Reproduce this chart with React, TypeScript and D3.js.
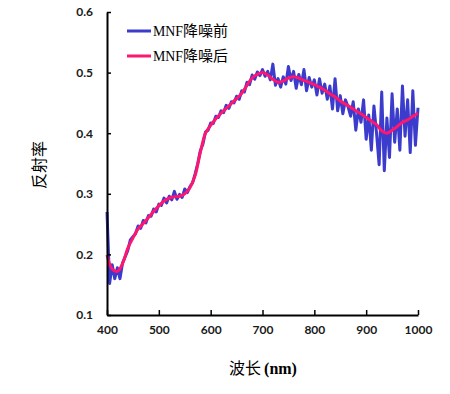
import { useEffect, useRef } from 'react';
import * as d3 from 'd3';

// wavelength (nm) of each sample, blue line sampled every 5 nm, red every 10 nm
const rawWavelengths = d3.range(400, 1001, 5);
const rawReflectance = [
  0.270, 0.152, 0.183, 0.160, 0.178, 0.160, 0.186, 0.196, 0.206, 0.224,
  0.229, 0.234, 0.247, 0.243, 0.256, 0.252, 0.264, 0.263, 0.275, 0.270,
  0.283, 0.281, 0.293, 0.285, 0.296, 0.290, 0.304, 0.291, 0.299, 0.294,
  0.308, 0.302, 0.312, 0.318, 0.333, 0.350, 0.371, 0.382, 0.402, 0.405,
  0.417, 0.416, 0.428, 0.426, 0.437, 0.434, 0.446, 0.441, 0.452, 0.450,
  0.461, 0.456, 0.470, 0.468, 0.484, 0.480, 0.496, 0.489, 0.501, 0.495,
  0.505, 0.494, 0.502, 0.488, 0.514, 0.479, 0.490, 0.476, 0.493, 0.481,
  0.510, 0.487, 0.502, 0.474, 0.497, 0.480, 0.505, 0.470, 0.492, 0.476,
  0.488, 0.463, 0.490, 0.466, 0.481, 0.456, 0.478, 0.440, 0.490, 0.437,
  0.462, 0.432, 0.455, 0.444, 0.428, 0.452, 0.405, 0.440, 0.418, 0.455,
  0.390, 0.430, 0.372, 0.445, 0.400, 0.348, 0.468, 0.338, 0.425, 0.360,
  0.465, 0.385, 0.440, 0.372, 0.478, 0.395, 0.455, 0.368, 0.470, 0.380,
  0.442,
];

const mnfWavelengths = d3.range(400, 1001, 10);
const mnfReflectance = [
  0.199, 0.176, 0.172, 0.185, 0.210, 0.227, 0.242, 0.251, 0.261, 0.271,
  0.280, 0.288, 0.293, 0.295, 0.296, 0.300, 0.310, 0.330, 0.368, 0.400,
  0.413, 0.424, 0.433, 0.441, 0.449, 0.457, 0.466, 0.479, 0.491, 0.497,
  0.500, 0.496, 0.489, 0.484, 0.486, 0.491, 0.493, 0.491, 0.487, 0.484,
  0.480, 0.476, 0.471, 0.465, 0.460, 0.453, 0.448, 0.443, 0.437, 0.432,
  0.426, 0.420, 0.414, 0.404, 0.400, 0.405, 0.411, 0.418, 0.422, 0.428,
  0.433,
];

const xTicks = [400, 500, 600, 700, 800, 900, 1000];
const yTicks = [0.1, 0.2, 0.3, 0.4, 0.5, 0.6];
const legendLabels = ['MNF降噪前', 'MNF降噪后'];

const BLUE = '#3b3bcc';
const RED = '#ff1670';

export default function App() {
  const svgRef = useRef<SVGSVGElement>(null);

  useEffect(() => {
    if (!svgRef.current) return;
    const svg = d3.select(svgRef.current);
    svg.selectAll('*').remove();

    const x = d3.scaleLinear().domain([400, 1000]).range([107, 418]);
    const y = d3.scaleLinear().domain([0.1, 0.6]).range([315, 12]);

    const line = d3.line<[number, number]>()
      .x(d => x(d[0]))
      .y(d => y(d[1]));

    // noisy spectrum
    svg.append('path')
      .datum(rawWavelengths.map((w, i) => [w, rawReflectance[i]] as [number, number]))
      .attr('d', line)
      .attr('fill', 'none')
      .attr('stroke', BLUE)
      .attr('stroke-width', 3)
      .attr('stroke-linejoin', 'round');

    // denoised spectrum
    svg.append('path')
      .datum(mnfWavelengths.map((w, i) => [w, mnfReflectance[i]] as [number, number]))
      .attr('d', line.curve(d3.curveCatmullRom))
      .attr('fill', 'none')
      .attr('stroke', RED)
      .attr('stroke-width', 3);

    // axes
    const yAxis = svg.append('g')
      .attr('transform', `translate(${x(400)},0)`)
      .call(d3.axisLeft(y).tickValues(yTicks).tickFormat(d3.format('.1f'))
        .tickSizeInner(-4).tickSizeOuter(0).tickPadding(14));
    const xAxis = svg.append('g')
      .attr('transform', `translate(0,${y(0.1)})`)
      .call(d3.axisBottom(x).tickValues(xTicks).tickFormat(d3.format('d'))
        .tickSizeInner(-5).tickSizeOuter(0).tickPadding(10));

    [yAxis, xAxis].forEach(ax => {
      ax.select('.domain').attr('stroke', '#000').attr('stroke-width', 2);
      ax.selectAll('.tick line').attr('stroke', '#000').attr('stroke-width', 1.5);
      ax.selectAll('.tick text')
        .attr('fill', '#1a1a1a')
        .attr('font-size', 12)
        .attr('font-weight', 700)
        .attr('font-family', 'Lato, "Liberation Sans", sans-serif');
    });

    // axis titles
    svg.append('text')
      .attr('transform', `translate(45,${165}) rotate(-90)`)
      .attr('text-anchor', 'middle')
      .attr('font-size', 16)
      .attr('font-family', '"Noto Sans CJK SC", sans-serif')
      .attr('fill', '#000')
      .text('反射率');

    const xt = svg.append('text')
      .attr('x', 263)
      .attr('y', 374)
      .attr('text-anchor', 'middle')
      .attr('font-size', 16)
      .attr('fill', '#000');
    xt.append('tspan').attr('font-family', '"Noto Sans CJK SC", sans-serif').text('波长');
    xt.append('tspan')
      .attr('font-family', '"Liberation Serif", serif')
      .attr('font-weight', 700)
      .attr('dx', 3)
      .text('(nm)');

    // legend
    legendLabels.forEach((label, i) => {
      const ly = 31 + i * 25;
      svg.append('line')
        .attr('x1', 127).attr('x2', 151)
        .attr('y1', ly).attr('y2', ly)
        .attr('stroke', i === 0 ? BLUE : RED)
        .attr('stroke-width', 3);
      const t = svg.append('text')
        .attr('x', 153)
        .attr('y', ly + 5)
        .attr('font-size', 15)
        .attr('fill', '#000');
      t.append('tspan')
        .attr('font-family', '"Liberation Serif", serif')
        .attr('textLength', 30)
        .attr('lengthAdjust', 'spacingAndGlyphs')
        .text(label.slice(0, 3));
      t.append('tspan')
        .attr('font-family', '"Noto Sans CJK SC", sans-serif')
        .text(label.slice(3));
    });
  }, []);

  return (
    <svg
      ref={svgRef}
      width={450}
      height={394}
      viewBox="0 0 450 394"
      style={{ position: 'absolute', left: 0, top: 0, background: '#fff', display: 'block' }}
    />
  );
}
